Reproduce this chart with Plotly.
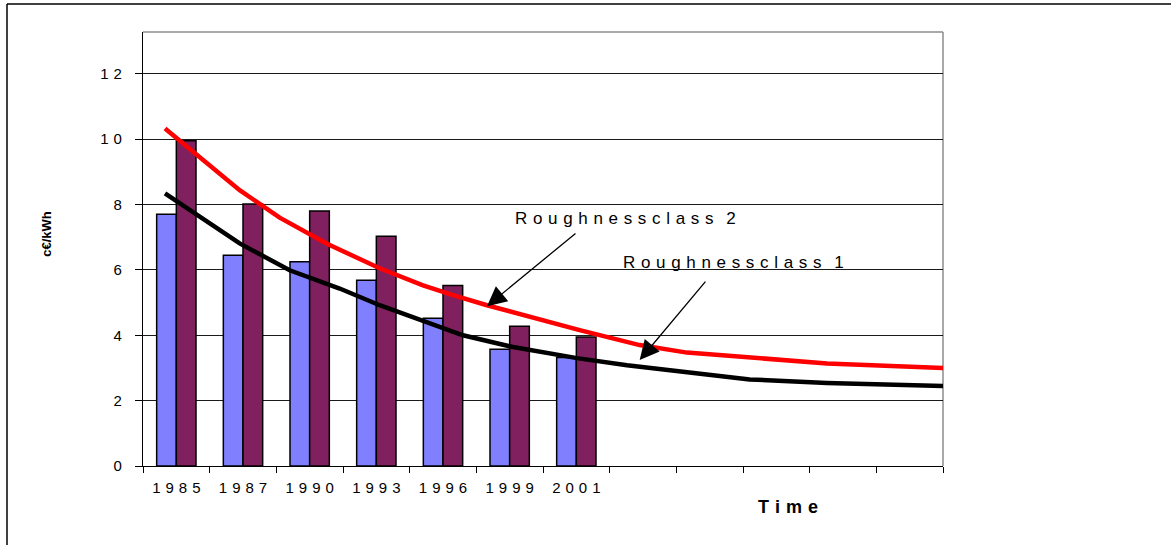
import plotly.graph_objects as go

# Category axis: 12 slots, the first seven carry years
years = ["1985", "1987", "1990", "1993", "1996", "1999", "2001"]
n_slots = 12

# Bar series (c€/kWh)
class1_bars = [7.7, 6.45, 6.25, 5.68, 4.52, 3.57, 3.32]
class2_bars = [9.95, 8.02, 7.8, 7.03, 5.52, 4.28, 3.95]

# Trend curves, x given in slot units (0 = first slot centre)
curve2_x = [-0.17, 0.31, 0.95, 1.55, 2.26, 3.05, 3.70, 4.15, 4.66, 6.05, 6.95, 7.66, 8.75, 9.76, 11.5]
curve2_y = [10.33, 9.52, 8.44, 7.6, 6.8, 6.05, 5.53, 5.23, 4.92, 4.16, 3.70, 3.47, 3.29, 3.14, 3.0]
curve1_x = [-0.17, 0.20, 0.95, 1.70, 2.45, 3.05, 3.70, 4.30, 5.05, 6.01, 6.76, 7.66, 8.60, 9.76, 11.5]
curve1_y = [8.34, 7.83, 6.81, 5.99, 5.43, 4.92, 4.46, 4.0, 3.64, 3.30, 3.08, 2.88, 2.65, 2.54, 2.45]

y_ticks = [0, 2, 4, 6, 8, 10, 12]

FONT = "Liberation Sans, Arial, sans-serif"


def spaced(text, sep="\u2004", word_sep="\u2006"):
    """Widely letter-spaced label."""
    return sep.join(word_sep if ch == " " else ch for ch in text)


slots = list(range(len(years)))

fig = go.Figure()
fig.add_trace(go.Bar(
    x=slots, y=class1_bars, marker=dict(color="#8080FF", line=dict(color="black", width=1.5)),
    showlegend=False))
fig.add_trace(go.Bar(
    x=slots, y=class2_bars, marker=dict(color="#80205F", line=dict(color="black", width=1.5)),
    showlegend=False))
fig.add_trace(go.Scatter(
    x=curve2_x, y=curve2_y, mode="lines", line=dict(color="#FF0000", width=4.5),
    showlegend=False, cliponaxis=False))
fig.add_trace(go.Scatter(
    x=curve1_x, y=curve1_y, mode="lines", line=dict(color="black", width=4.5),
    showlegend=False, cliponaxis=False))

boundaries = [i - 0.5 for i in range(n_slots + 1)]

fig.update_layout(
    width=1171, height=545,
    margin=dict(l=143, r=228, t=32, b=79),
    paper_bgcolor="white", plot_bgcolor="white",
    barmode="group", bargap=0.41, bargroupgap=0,
    font=dict(family=FONT, color="black", size=15),
    xaxis=dict(
        range=[-0.5, n_slots - 0.5], tickvals=slots, ticktext=[spaced(y) for y in years],
        ticks="outside", ticklen=0, tickcolor="black", ticklabelstandoff=8,
        showgrid=False, zeroline=False, showline=True, linecolor="black", linewidth=1.3,
        minor=dict(tickvals=boundaries, ticks="outside", ticklen=6, tickcolor="black",
                   tickwidth=1.2, showgrid=False),
        tickfont=dict(size=15),
    ),
    yaxis=dict(
        range=[0, 13.28], tickvals=y_ticks, ticktext=[spaced(str(v)) for v in y_ticks],
        ticks="outside", ticklen=7, tickcolor="black", tickwidth=1.2, ticklabelstandoff=10,
        showgrid=True, gridcolor="#1a1a1a", gridwidth=1, zeroline=False,
        showline=True, linecolor="black", linewidth=1.3, tickfont=dict(size=15),
    ),
)

shapes = [
    # plot-area frame (top and right edges)
    dict(type="line", xref="paper", yref="paper", x0=0, x1=1, y0=1, y1=1,
         line=dict(color="#8c8c8c", width=1.5), layer="below"),
    dict(type="line", xref="paper", yref="paper", x0=1, x1=1, y0=0, y1=1,
         line=dict(color="#8c8c8c", width=1.5), layer="below"),
    # outer chart border
    dict(type="line", xref="paper", yref="paper", x0=-0.17, x1=1.3, y0=1.0645, y1=1.0645,
         line=dict(color="black", width=1.5)),
    dict(type="line", xref="paper", yref="paper", x0=-0.17, x1=-0.17, y0=-0.2, y1=1.0645,
         line=dict(color="black", width=1.5)),
]
fig.update_layout(shapes=shapes)

annotations = [
    dict(text="<b>c€/kWh</b>", xref="paper", yref="paper", x=-0.12, y=0.535,
         xanchor="center", yanchor="middle",
         textangle=-90, showarrow=False, font=dict(size=13)),
    dict(text="<b>" + spaced("Time") + "</b>", xref="paper", yref="paper",
         x=0.806, y=-0.095, xanchor="center", yanchor="middle",
         showarrow=False, font=dict(size=18)),
    dict(text=spaced("Roughnessclass 2", word_sep="\u200a"), xref="paper", yref="paper",
         x=0.603, y=0.571, xanchor="center", yanchor="middle",
         showarrow=False, font=dict(size=17)),
    dict(text=spaced("Roughnessclass 1", word_sep="\u200a"), xref="paper", yref="paper",
         x=0.7375, y=0.468, xanchor="center", yanchor="middle",
         showarrow=False, font=dict(size=17)),
    # pointer arrows to the two curves
    dict(text="", x=4.66, y=4.89, xref="x", yref="y", ax=90, ay=-74,
         showarrow=True, arrowhead=2, arrowsize=3, arrowwidth=1.3, arrowcolor="black"),
    dict(text="", x=6.95, y=3.24, xref="x", yref="y", ax=67, ay=-80,
         showarrow=True, arrowhead=2, arrowsize=3, arrowwidth=1.3, arrowcolor="black"),
]
fig.update_layout(annotations=annotations)

fig.write_html("out.html")
